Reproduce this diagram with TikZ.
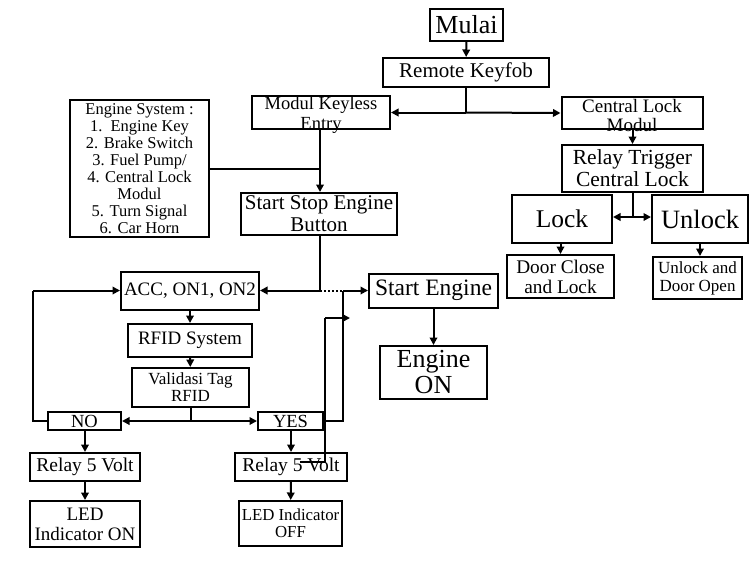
\documentclass[tikz,border=0pt]{standalone}
\usepackage{fontspec}
\setmainfont{Liberation Serif}
\usetikzlibrary{arrows.meta,calc}
\tikzset{
  box/.style={draw, line width=2pt, inner sep=0pt},
  txt/.style={inner sep=0pt, align=center},
  arr/.style={line width=2pt, -{Triangle[length=7.5pt,width=7.5pt]}},
  ln/.style={line width=2pt},
  dots/.style={line width=2pt, dash pattern=on 2pt off 2pt},
}
\newcommand{\mybox}[8]{% name, x, y, w, h, fontsize, baselineskip, text
  \node[box, minimum width=#4, minimum height=#5] (#1) at (#2,#3) {};
  \node[txt, font=\fontsize{#6}{#7}\selectfont] (#1-t) at (#1.center) {#8};}
\begin{document}
\begin{tikzpicture}[x=1pt,y=-1pt]
\useasboundingbox (0,0) rectangle (749,566);
% boxes
\mybox{mulai}{466.5}{25}{73pt}{32pt}{26}{26}{Mulai}
\mybox{remote}{466}{72.5}{166pt}{29pt}{21}{22}{Remote Keyfob}
\node[box, minimum width=138pt, minimum height=33pt] (keyless) at (321,112.5) {};
\node[txt, font=\fontsize{18.5}{20}\selectfont] at ($(keyless.center)+(0,3)$) {Modul Keyless\\Entry};
\node[box, minimum width=141pt, minimum height=32pt] (central) at (632,113) {};
\node[txt, font=\fontsize{19}{19}\selectfont] at ($(central.center)+(0,2)$) {Central Lock\\Modul};
\mybox{engsys}{139.5}{168.5}{139pt}{137pt}{16.5}{17}{Engine System :\\1.\ \ Engine Key\\2. Brake Switch\\3. Fuel Pump/\\4. Central Lock\\Modul\\5. Turn Signal\\6. Car Horn}
\mybox{startstop}{319}{214}{156pt}{42pt}{21}{22}{Start Stop Engine\\Button}
\mybox{acc}{190}{290.5}{138pt}{38pt}{19}{20}{ACC, ON1, ON2}
\mybox{starteng}{433.5}{290.5}{129pt}{34pt}{23.5}{24}{Start Engine}
\mybox{engineon}{433.5}{372.5}{107pt}{53pt}{26}{26}{Engine\\ON}
\mybox{rfid}{190}{340.5}{124pt}{33pt}{19}{20}{RFID System}
\mybox{valid}{190.5}{387.5}{117pt}{39pt}{17}{17}{Validasi Tag\\RFID}
\mybox{no}{84.5}{421}{73pt}{18pt}{18.5}{18}{NO}
\mybox{yes}{290.5}{421}{65pt}{18pt}{18.5}{18}{YES}
\mybox{relayL}{85}{467}{110pt}{28pt}{19.5}{20}{Relay 5 Volt}
\mybox{ledon}{85}{524}{110pt}{46pt}{19}{20}{LED\\Indicator ON}
\mybox{relayR}{291}{467}{112pt}{28pt}{19.5}{20}{Relay 5 Volt}
\mybox{ledoff}{290.5}{523.5}{103pt}{45pt}{16.8}{17}{LED Indicator\\OFF}
\mybox{relaytrig}{632.5}{168.5}{141pt}{47pt}{21.5}{22}{Relay Trigger\\Central Lock}
\mybox{lock}{562}{219}{100pt}{48pt}{25.5}{26}{Lock}
\mybox{unlock}{700}{219}{96pt}{48pt}{26.5}{26}{Unlock}
\mybox{doorclose}{560.5}{276.5}{107pt}{43pt}{19.3}{20}{Door Close\\and Lock}
\mybox{unlockopen}{697.5}{278}{89pt}{42pt}{17}{18}{Unlock and\\Door Open}
% top part
\draw[arr] (mulai) -- (remote);
\coordinate (j1) at (remote.south |- keyless.east);
\draw[ln] (remote.south) -- (j1);
\draw[arr] (j1) -- (keyless.east);
\draw[arr] (j1) -- (central.west);
\coordinate (kb) at (320,129);
\draw[arr] (kb) -- (kb |- startstop.north);
\coordinate (j2) at (kb |- engsys.east);
\draw[ln] (engsys.east) -- (j2);
% right branch
\draw[arr] (central.south -| relaytrig.north) -- (relaytrig.north);
\coordinate (j7) at (633,217);
\draw[ln] (relaytrig.south -| j7) -- (j7);
\draw[arr] (j7) -- (lock.east |- j7);
\draw[arr] (j7) -- (unlock.west |- j7);
\draw[arr] (lock.south -| doorclose.north) -- (doorclose.north);
\draw[arr] (unlock.south) -- (unlock.south |- unlockopen.north);
% start stop to acc / start engine
\coordinate (j3) at (startstop.south -| kb);
\coordinate (j3b) at (kb |- acc.east);
\draw[ln] (j3) -- (j3b);
\draw[arr] (j3b) -- (acc.east);
\coordinate (j4) at (343,290.5);
\draw[dots] (j3b) -- (j4);
\draw[arr] (j4) -- (starteng.west);
\draw[arr] (starteng) -- (engineon);
\draw[ln] (yes.east) -- (yes.east -| j4) -- (j4);
\coordinate (k1) at (300,462);
\coordinate (k2) at (325,462);
\coordinate (k3) at (325,318);
\coordinate (k4) at (350,318);
\draw[ln] (k1) -- (k2) -- (k3);
\draw[arr] (k3) -- (k4);
% RFID chain
\draw[arr] (acc) -- (rfid);
\draw[arr] (rfid) -- (valid);
\coordinate (j5) at (valid.south |- no.east);
\draw[ln] (valid.south) -- (j5);
\draw[arr] (j5) -- (no.east);
\draw[arr] (j5) -- (yes.west);
\coordinate (l1) at (33,421);
\coordinate (l2) at (33,290.5);
\draw[ln] (no.west) -- (l1) -- (l2);
\draw[arr] (l2) -- (acc.west);
\draw[arr] (no.south -| relayL.north) -- (relayL.north);
\draw[arr] (relayL) -- (ledon);
\draw[arr] (yes.south -| relayR.north) -- (relayR.north);
\draw[arr] (relayR) -- (ledoff);
\end{tikzpicture}
\end{document}
